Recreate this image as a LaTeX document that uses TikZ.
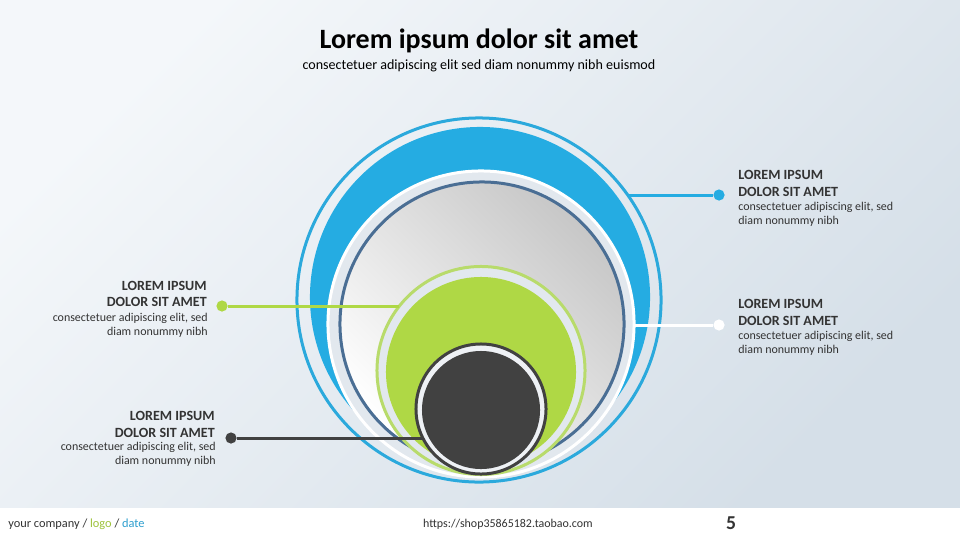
\documentclass[tikz,border=0pt]{standalone}
\usepackage{fontspec}
\setmainfont{Carlito}
\usepackage{xcolor}
\definecolor{bgA}{HTML}{F4F7FA}
\definecolor{bgB}{HTML}{D5DFE8}
\definecolor{ringBlue}{HTML}{2BA9DC}
\definecolor{diskBlue}{HTML}{25ACE2}
\definecolor{bandGray}{HTML}{E2E8EE}
\definecolor{steel}{HTML}{4A6E94}
\definecolor{limeRing}{HTML}{B8DB6B}
\definecolor{lime}{HTML}{AFD845}
\definecolor{coal}{HTML}{414141}
\definecolor{txt}{HTML}{333333}
\definecolor{logoGreen}{HTML}{9DC33B}
\definecolor{dateBlue}{HTML}{2E9FCF}

\begin{document}
\begin{tikzpicture}[x=0.025cm,y=-0.025cm,
  disc/.style={circle,inner sep=0,outer sep=0},
  link/.style={line width=0.075cm},
  dot/.style={circle,inner sep=0,minimum size=0.28cm},
  head/.style={inner sep=0,text=txt,font=\fontsize{10}{12}\selectfont\bfseries},
  body/.style={inner sep=0,text=txt,font=\fontsize{8.5}{10}\selectfont}]
\useasboundingbox (0,0) rectangle (960,540);
\shade[top color=bgA,bottom color=bgB,shading angle=45] (-2,-2) rectangle (962,509);
\fill[white] (-2,508) rectangle (962,544);

\node[disc,draw=ringBlue,line width=0.075cm,minimum size=9.1cm] (ring) at (479,300) {};
\node[disc,fill=diskBlue,minimum size=8.5cm] (bluedisk) at (480,297) {};
\node[disc,fill=bandGray,draw=white,line width=0.075cm,minimum size=7.65cm] (whiteband) at (481,324) {};
\node[disc,draw=steel,line width=0.075cm,top color=black!22,bottom color=white,shading angle=-45,minimum size=7.1cm] (graydisk) at (482,324) {};
\node[disc,fill=bandGray,draw=limeRing,line width=0.075cm,minimum size=5.2cm] (limering) at (481,370.5) {};
\node[disc,fill=lime,minimum size=4.75cm] (limedisk) at (481,372) {};
\node[disc,fill=bandGray!60!white,draw=coal,line width=0.075cm,minimum size=3.25cm] (coalring) at (481,409) {};
\node[disc,fill=coal,minimum size=2.95cm] (coaldisk) at (481,410) {};

\node[dot,fill=diskBlue] (dotA) at (719,195) {};
\node[dot,fill=white] (dotB) at (719,325) {};
\node[dot,fill=lime] (dotC) at (222,306) {};
\node[dot,fill=coal] (dotD) at (231,438) {};
\draw[link,diskBlue] (ring.35 |- dotA) -- (dotA);
\draw[link,white] (whiteband.east |- dotB) -- (dotB);
\draw[link,lime] (limering.142 |- dotC) -- (dotC);
\draw[link,coal] (coalring.206 |- dotD) -- (dotD);

\node[text=black,font=\fontsize{19.9}{23}\selectfont\bfseries] (title) at (479,41) {Lorem ipsum dolor sit amet};
\node[text=black,font=\fontsize{10}{12}\selectfont] (subtitle) at (479,66) {consectetuer adipiscing elit sed diam nonummy nibh euismod};

\node[head,anchor=north west,align=left] (headA) at (738,170) {LOREM IPSUM\\DOLOR SIT AMET};
\node[body,anchor=north west,align=left] (bodyA) at (738,202) {consectetuer adipiscing elit, sed\\diam nonummy nibh};
\node[head,anchor=north west,align=left] (headB) at (738,299) {LOREM IPSUM\\DOLOR SIT AMET};
\node[body,anchor=north west,align=left] (bodyB) at (738,331) {consectetuer adipiscing elit, sed\\diam nonummy nibh};
\node[head,anchor=north east,align=right] (headC) at (207,280.5) {LOREM IPSUM\\DOLOR SIT AMET};
\node[body,anchor=north east,align=right] (bodyC) at (208,312.5) {consectetuer adipiscing elit, sed\\diam nonummy nibh};
\node[head,anchor=north east,align=right] (headD) at (215,411) {LOREM IPSUM\\DOLOR SIT AMET};
\node[body,anchor=north east,align=right] (bodyD) at (216,442) {consectetuer adipiscing elit, sed\\diam nonummy nibh};

\node[anchor=west,inner sep=0,text=txt,font=\fontsize{8.8}{10}\selectfont] (company) at (8,524) {your company / \textcolor{logoGreen}{logo} / \textcolor{dateBlue}{date}};
\node[inner sep=0,text=txt,font=\fontsize{8.5}{10}\selectfont] (url) at (508,524) {https://shop35865182.taobao.com};
\node[inner sep=0,text=txt,font=\fontsize{14}{16}\selectfont\bfseries] (page) at (731,523) {5};
\end{tikzpicture}
\end{document}
